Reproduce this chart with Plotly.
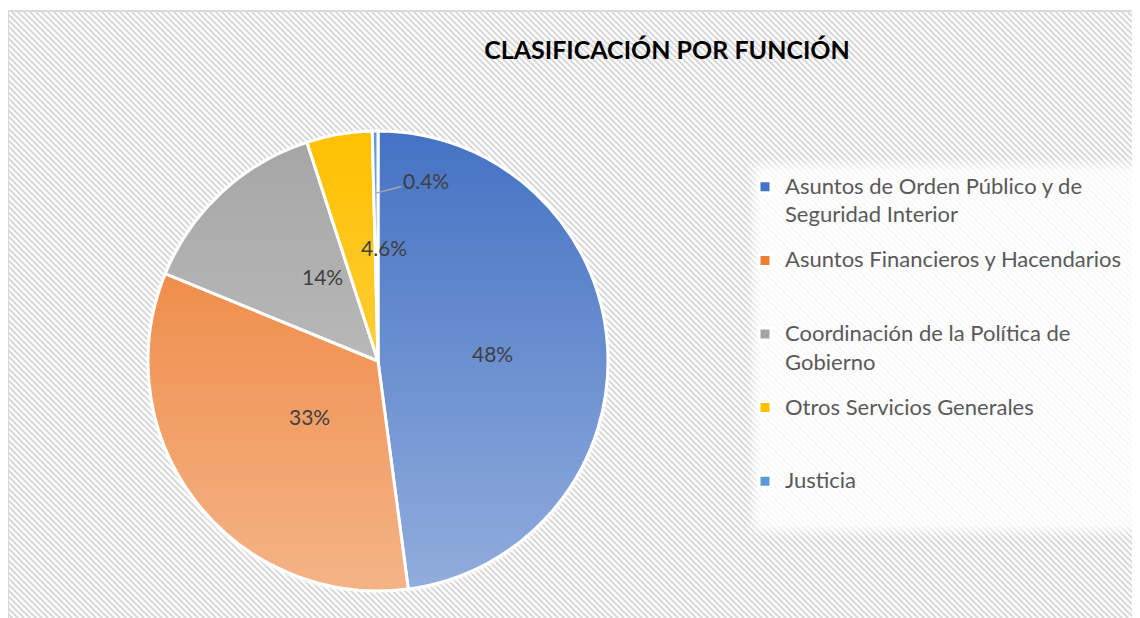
import base64, math
import plotly.graph_objects as go

# ---- data ----
categories = [
    "Asuntos de Orden Público y de Seguridad Interior",
    "Asuntos Financieros y Hacendarios",
    "Coordinación de la Política de Gobierno",
    "Otros Servicios Generales",
    "Justicia",
]
legend_lines = [
    ["Asuntos de Orden Público y de", "Seguridad Interior"],
    ["Asuntos Financieros y Hacendarios"],
    ["Coordinación de la Política de", "Gobierno"],
    ["Otros Servicios Generales"],
    ["Justicia"],
]
values = [47.9, 33.3, 13.8, 4.6, 0.4]
colors = ["#4472C4", "#ED7D31", "#A5A5A5", "#FFC000", "#5B9BD5"]
title_text = "CLASIFICACIÓN POR FUNCIÓN"

W, H = 1140, 618
OFF = 8  # page body margin
CX, CY, R = 378 - OFF, 361 - OFF, 230  # pie centre / radius in figure px

FONT = "Lato, Carlito, Calibri, sans-serif"
NBSP = "\u00a0"


def px_x(x):
    return (x - OFF) / W


def px_y(y):
    return 1 - (y - OFF) / H


def svg_uri(svg):
    return "data:image/svg+xml;base64," + base64.b64encode(svg.encode("utf-8")).decode()


# background: hatched chart area with soft white legend panel
bg_svg = f"""<svg xmlns='http://www.w3.org/2000/svg' width='{W}' height='{H}' viewBox='0 0 {W} {H}'>
<defs>
<pattern id='p' width='6' height='6' patternUnits='userSpaceOnUse'>
<rect width='6' height='6' fill='white'/>
<path d='M-1,-1 L7,7 M5,-1 L7,1 M-1,5 L1,7' stroke='#d9d9d9' stroke-width='2.1'/>
</pattern>
<filter id='b' x='-10%' y='-10%' width='120%' height='120%'><feGaussianBlur stdDeviation='5'/></filter>
</defs>
<rect width='{W}' height='{H}' fill='white'/>
<rect x='0' y='3' width='{W + 20}' height='{H + 20}' fill='url(#p)' stroke='#d9d9d9' stroke-width='2'/>
<rect x='746' y='157' width='420' height='366' fill='white' fill-opacity='0.85' filter='url(#b)'/>
</svg>"""

# gradient overlay for the pie (lighter towards the bottom)
grad_svg = """<svg xmlns='http://www.w3.org/2000/svg' width='100' height='100' viewBox='0 0 100 100' preserveAspectRatio='none'>
<defs><linearGradient id='g' x1='0' y1='0' x2='0' y2='1'>
<stop offset='0' stop-color='white' stop-opacity='0'/>
<stop offset='1' stop-color='white' stop-opacity='0.42'/>
</linearGradient></defs>
<circle cx='50' cy='50' r='50.7' fill='url(#g)'/>
</svg>"""

dom_x = [(CX - R) / W, (CX + R) / W]
dom_y = [(H - CY - R) / H, (H - CY + R) / H]

span1 = "<span style='font-size:22px'>{}</span>"
span2 = "<span style='font-size:22px;baseline-shift:-4.5px'>{}</span>"
pie_labels = []
for lines in legend_lines:
    body = [span1.format(lines[0])]
    if len(lines) > 1:
        body.append(span2.format(lines[1]))
    else:
        body.append(NBSP)
    pie_labels.append("<br>".join([NBSP] + body))

fig = go.Figure()
fig.add_trace(go.Pie(
    labels=pie_labels,
    values=values,
    sort=False,
    direction="clockwise",
    rotation=0,
    marker=dict(colors=colors, line=dict(color="white", width=3)),
    textinfo="none",
    hovertext=categories,
    hoverinfo="text+percent",
    domain=dict(x=dom_x, y=dom_y),
))

# data labels, placed at each slice's mid angle
total = sum(values)
cum = 0.0
annotations = []
for i, v in enumerate(values):
    pct = v / total * 100
    txt = f"{pct:.0f}%" if pct >= 10 else f"{pct:.1f}%"
    mid = (cum + v / 2) / total * 2 * math.pi
    cum += v
    if i < len(values) - 1:
        rr = 0.5 * R
        px = CX + rr * math.sin(mid)
        py = CY - rr * math.cos(mid)
        annotations.append(dict(x=px / W, y=1 - py / H, xref="paper", yref="paper",
                                text=txt, showarrow=False,
                                font=dict(family=FONT, size=21, color="#404040")))
    else:
        rr = 0.73 * R
        px = CX + rr * math.sin(mid)
        py = CY - rr * math.cos(mid)
        annotations.append(dict(x=px / W, y=1 - py / H, xref="paper", yref="paper",
                                text=txt, showarrow=True, arrowhead=0,
                                arrowcolor="#A6A6A6", arrowwidth=1.5,
                                ax=50, ay=-13,
                                font=dict(family=FONT, size=21, color="#404040")))

fig.update_layout(
    width=W, height=H,
    margin=dict(l=0, r=0, t=0, b=0),
    paper_bgcolor="white",
    title=dict(text="<b>" + title_text + "</b>", x=px_x(667), y=px_y(50),
               xanchor="center", yanchor="middle",
               font=dict(family=FONT, size=25, color="#000000")),
    showlegend=True,
    legend=dict(x=px_x(745), y=px_y(145), xanchor="left", yanchor="top",
                bgcolor="rgba(0,0,0,0)", borderwidth=0,
                font=dict(family=FONT, size=18.1, color="#595959"),
                traceorder="normal"),
    annotations=annotations,
    images=[
        dict(source=svg_uri(bg_svg), xref="paper", yref="paper", x=0, y=1,
             sizex=1, sizey=1, xanchor="left", yanchor="top",
             sizing="stretch", layer="below"),
        dict(source=svg_uri(grad_svg), xref="paper", yref="paper",
             x=dom_x[0], y=dom_y[1], sizex=dom_x[1] - dom_x[0], sizey=dom_y[1] - dom_y[0],
             xanchor="left", yanchor="top", sizing="stretch", layer="above"),
    ],
)

fig.write_html("out.html")
